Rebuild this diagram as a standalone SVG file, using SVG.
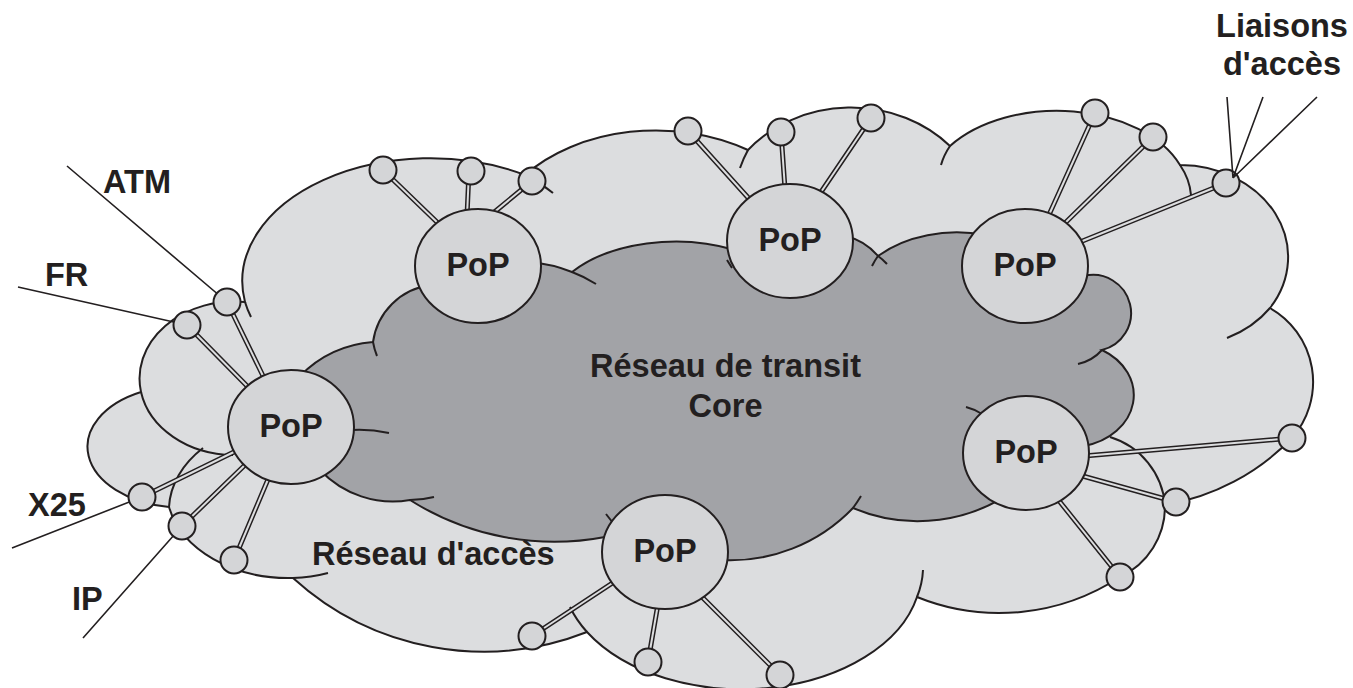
<svg xmlns="http://www.w3.org/2000/svg" width="1353" height="688" viewBox="0 0 1353 688">
<style>
.ln{fill:none;stroke:#231f20;stroke-width:2}
.acc{fill:#dcdddf;stroke:#231f20;stroke-width:2}
.core{fill:#a2a3a7;stroke:#231f20;stroke-width:2}
.pop ellipse{fill:#d4d5d7;stroke:#231f20;stroke-width:2}
.pop text,.lbl{font-family:"Liberation Sans",Arial,sans-serif;font-weight:bold;font-size:32.5px;fill:#231f20}
.pop text,.mid{text-anchor:middle}
.ap circle{fill:#d4d5d7;stroke:#231f20;stroke-width:2}
.link-o{fill:none;stroke:#231f20;stroke-width:5}
.link-i{fill:none;stroke:#dcdddf;stroke-width:2}
.wire{fill:none;stroke:#231f20;stroke-width:1.6}
</style>
<defs>
<!-- double-line access links, node centre to PoP rim -->
<path id="links" d="M383,170 L441,226 M469,171 L467,216 M532,181 L492,214
M688,131 L752,202 M781,132 L785,189 M871,118 L819,195
M1095,113 L1048,217 M1153,137 L1064,224 M1226,183 L1080,242
M1292,438 L1084,456 M1176,502 L1079,475 M1120,577 L1056,497
M532,636 L617,580 M648,662 L658,604 M780,675 L699,594
M187,325 L252,391 M227,302 L266,382 M142,497 L238,450 M182,526 L247,463 M234,560 L269,477"/>
</defs>

<!-- access network cloud -->
<g id="access-cloud">
<path class="acc" d="M169,507 A96,61 0 0,1 141,392 A95,77 0 0,1 245,302 A188,123 0 0,1 525,175 A170,123 0 0,1 748,150 A135,120 0 0,1 950,146 A132,85 0 0,1 1180,165 A108,92 0 0,1 1270,308 A85,85 0 0,1 1292,438 A230,230 0 0,1 1165,505 A78,78 0 0,1 1120,577 A220,220 0 0,1 917,597 A180,118 0 0,1 587,632 A283,283 0 0,1 293,578 A122,90 0 0,1 169,507 Z"/>
<path class="ln" d="M141,392 A95,77 0 0,0 233,455
M245,302 A188,123 0 0,0 251,317
M525,175 A188,123 0 0,1 553,193
M748,150 A135,120 0 0,0 740,168
M950,146 A132,85 0 0,0 941,165
M1180,165 A132,85 0 0,1 1191,195
M1270,308 A108,92 0 0,1 1227,338
M1165,505 A78,78 0 0,0 1110,437
M917,597 A180,118 0 0,0 923,570
M587,632 A180,118 0 0,1 570,607
M293,578 A122,90 0 0,0 328,573
M169,507 A122,90 0 0,1 203,448"/>
</g>

<!-- transit core cloud -->
<g id="core-cloud">
<path class="core" d="M290,400 L300,376 A115,115 0 0,1 373,342 A67,67 0 0,1 430,285 L530,262 A120,90 0 0,1 572,272 A130,77 0 0,1 735,250 L845,236 A60,60 0 0,1 878,256 A110,78 0 0,1 985,235 L1084,276 A37,37 0 0,1 1102,350 A63,52 0 0,1 1084,446 L1020,486 A166,166 0 0,1 853,508 A170,170 0 0,1 720,560 L605,537 A270,270 0 0,1 410,500 A100,100 0 0,1 320,470 Z"/>
<path class="ln" d="M373,342 A67,67 0 0,0 377,356
M572,272 A120,90 0 0,1 596,284
M878,256 A60,60 0 0,1 887,264
M878,256 A110,78 0 0,0 872,266
M1102,350 A45,45 0 0,1 1078,364
M853,508 A170,170 0 0,0 861,496
M410,500 A100,100 0 0,0 434,497
M352,430 Q370,429 389,433
M966,407 Q974,409 982,414
M727,260 L732,268
M606,514 L613,523"/>
</g>

<g id="connectors">
<use href="#links" class="link-o"/>
<use href="#links" class="link-i"/>
<path class="wire" d="M67,166 L227,302 M18,287 L187,325 M12,548 L142,497 M83,638 L182,526"/>
</g>

<g id="pop-top-left" class="pop"><ellipse cx="478" cy="266" rx="63" ry="57"/><text x="478" y="275.5">PoP</text></g>
<g id="pop-top-mid" class="pop"><ellipse cx="790" cy="241" rx="63" ry="57"/><text x="790" y="250.5">PoP</text></g>
<g id="pop-top-right" class="pop"><ellipse cx="1025" cy="266" rx="63" ry="57"/><text x="1025" y="275.5">PoP</text></g>
<g id="pop-right" class="pop"><ellipse cx="1026" cy="453" rx="63" ry="57"/><text x="1026" y="462.5">PoP</text></g>
<g id="pop-bottom" class="pop"><ellipse cx="665" cy="552" rx="63" ry="57"/><text x="665" y="561.5">PoP</text></g>
<g id="pop-left" class="pop"><ellipse cx="291" cy="427" rx="63" ry="57"/><text x="291" y="436.5">PoP</text></g>

<g class="ap">
<g id="ap-tl1"><circle cx="383" cy="170" r="13.5"/></g>
<g id="ap-tl2"><circle cx="471" cy="171" r="13.5"/></g>
<g id="ap-tl3"><circle cx="532" cy="181" r="13.5"/></g>
<g id="ap-tm1"><circle cx="688" cy="131" r="13.5"/></g>
<g id="ap-tm2"><circle cx="781" cy="132" r="13.5"/></g>
<g id="ap-tm3"><circle cx="871" cy="118" r="13.5"/></g>
<g id="ap-tr1"><circle cx="1095" cy="113" r="13.5"/></g>
<g id="ap-tr2"><circle cx="1153" cy="137" r="13.5"/></g>
<g id="ap-tr3"><circle cx="1226" cy="183" r="13.5"/></g>
<g id="ap-r1"><circle cx="1292" cy="438" r="13.5"/></g>
<g id="ap-r2"><circle cx="1176" cy="502" r="13.5"/></g>
<g id="ap-r3"><circle cx="1120" cy="577" r="13.5"/></g>
<g id="ap-b1"><circle cx="532" cy="636" r="13.5"/></g>
<g id="ap-b2"><circle cx="648" cy="662" r="13.5"/></g>
<g id="ap-b3"><circle cx="780" cy="675" r="13.5"/></g>
<g id="ap-fr"><circle cx="187" cy="325" r="13.5"/></g>
<g id="ap-atm"><circle cx="227" cy="302" r="13.5"/></g>
<g id="ap-x25"><circle cx="142" cy="497" r="13.5"/></g>
<g id="ap-ip"><circle cx="182" cy="526" r="13.5"/></g>
<g id="ap-l5"><circle cx="234" cy="560" r="13.5"/></g>
</g>

<!-- leader lines for the "Liaisons d'accès" label -->
<path class="wire" d="M1227,97 L1233,178 M1263,97 L1233,178 M1317,97 L1233,178"/>

<g id="labels">
<text class="lbl" x="103" y="193">ATM</text>
<text class="lbl" x="45" y="286">FR</text>
<text class="lbl" x="28" y="516">X25</text>
<text class="lbl" x="72" y="610">IP</text>
<text class="lbl mid" x="1282" y="37">Liaisons</text>
<text class="lbl mid" x="1282" y="75">d'accès</text>
<text class="lbl mid" x="725.5" y="377">Réseau de transit</text>
<text class="lbl mid" x="725.5" y="417">Core</text>
<text class="lbl" x="312" y="565">Réseau d'accès</text>
</g>
</svg>
